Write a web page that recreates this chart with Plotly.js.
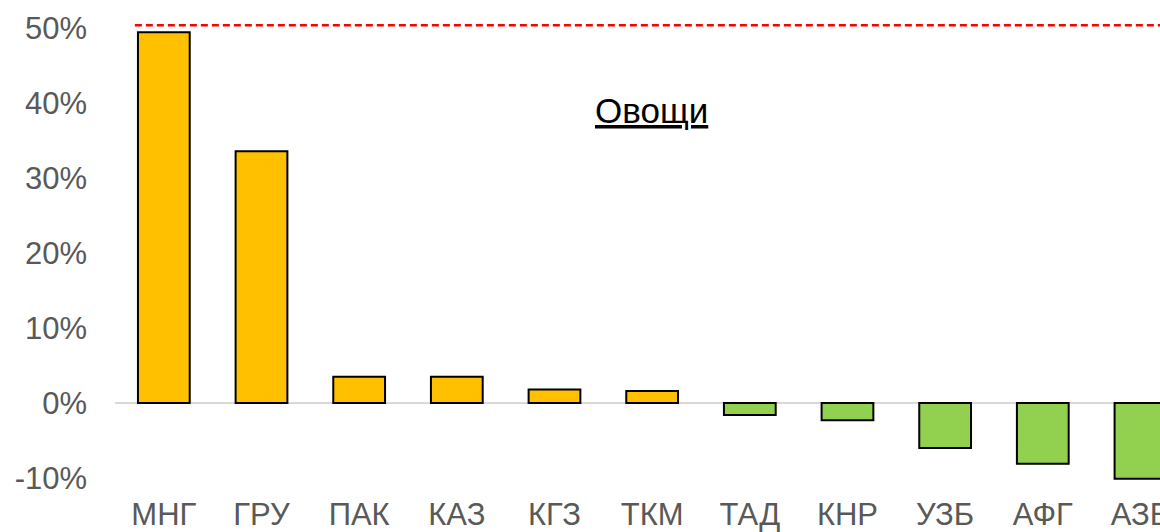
<!DOCTYPE html>
<html>
<head>
<meta charset="utf-8">
<script src="https://cdn.plot.ly/plotly-3.0.1.min.js"></script>
<style>html,body{margin:0;padding:0;background:#fff;}#chart{width:1160px;height:532px;}</style>
</head>
<body>
<div id="chart"></div>
<script>
const categories = ["МНГ", "ГРУ", "ПАК", "КАЗ", "КГЗ", "ТКМ", "ТАД", "КНР", "УЗБ", "АФГ", "АЗБ"];
const values = [0.495, 0.336, 0.035, 0.035, 0.018, 0.016, -0.016, -0.023, -0.060, -0.081, -0.101];
const yTickValues = [-0.1, 0, 0.1, 0.2, 0.3, 0.4, 0.5];
const yTickLabels = ["-10%", "0%", "10%", "20%", "30%", "40%", "50%"];
const thresholdValue = 0.5044;
const chartTitle = "Овощи";

const barColors = values.map(v => v >= 0 ? "#FFC000" : "#92D050");
const font = "Liberation Sans, Arial, sans-serif";

const trace = {
  type: "bar",
  x: categories,
  y: values,
  marker: {color: barColors, line: {color: "#000000", width: 2}},
  hoverinfo: "x+y"
};

const layout = {
  width: 1160, height: 532,
  margin: {l: 115, r: 0, t: 21, b: 39, pad: 0},
  paper_bgcolor: "#ffffff", plot_bgcolor: "#ffffff",
  showlegend: false,
  bargap: 0.47,
  xaxis: {
    type: "category",
    range: [-0.5, 10.2],
    showgrid: false, showline: false, zeroline: false,
    ticks: "", tickfont: {family: font, size: 31, color: "#595959"},
    fixedrange: true
  },
  yaxis: {
    range: [-0.12, 0.51],
    tickvals: yTickValues, ticktext: yTickLabels,
    showgrid: false, showline: false,
    zeroline: true, zerolinecolor: "#d9d9d9", zerolinewidth: 2,
    ticks: "", ticklabelstandoff: 27,
    tickfont: {family: font, size: 31, color: "#595959"},
    fixedrange: true
  },
  shapes: [{
    type: "line", xref: "paper", yref: "y",
    x0: 0.019, x1: 1, y0: thresholdValue, y1: thresholdValue,
    line: {color: "#FF0000", width: 2.5, dash: "7px,4px"}
  }],
  annotations: [{
    text: "<u>" + chartTitle + "</u>",
    xref: "paper", yref: "paper", x: 0.5134, y: 0.811,
    xanchor: "center", yanchor: "middle", showarrow: false,
    font: {family: font, size: 35, color: "#000000"}
  }]
};

Plotly.newPlot("chart", [trace], layout, {displayModeBar: false, staticPlot: true});
</script>
</body>
</html>
